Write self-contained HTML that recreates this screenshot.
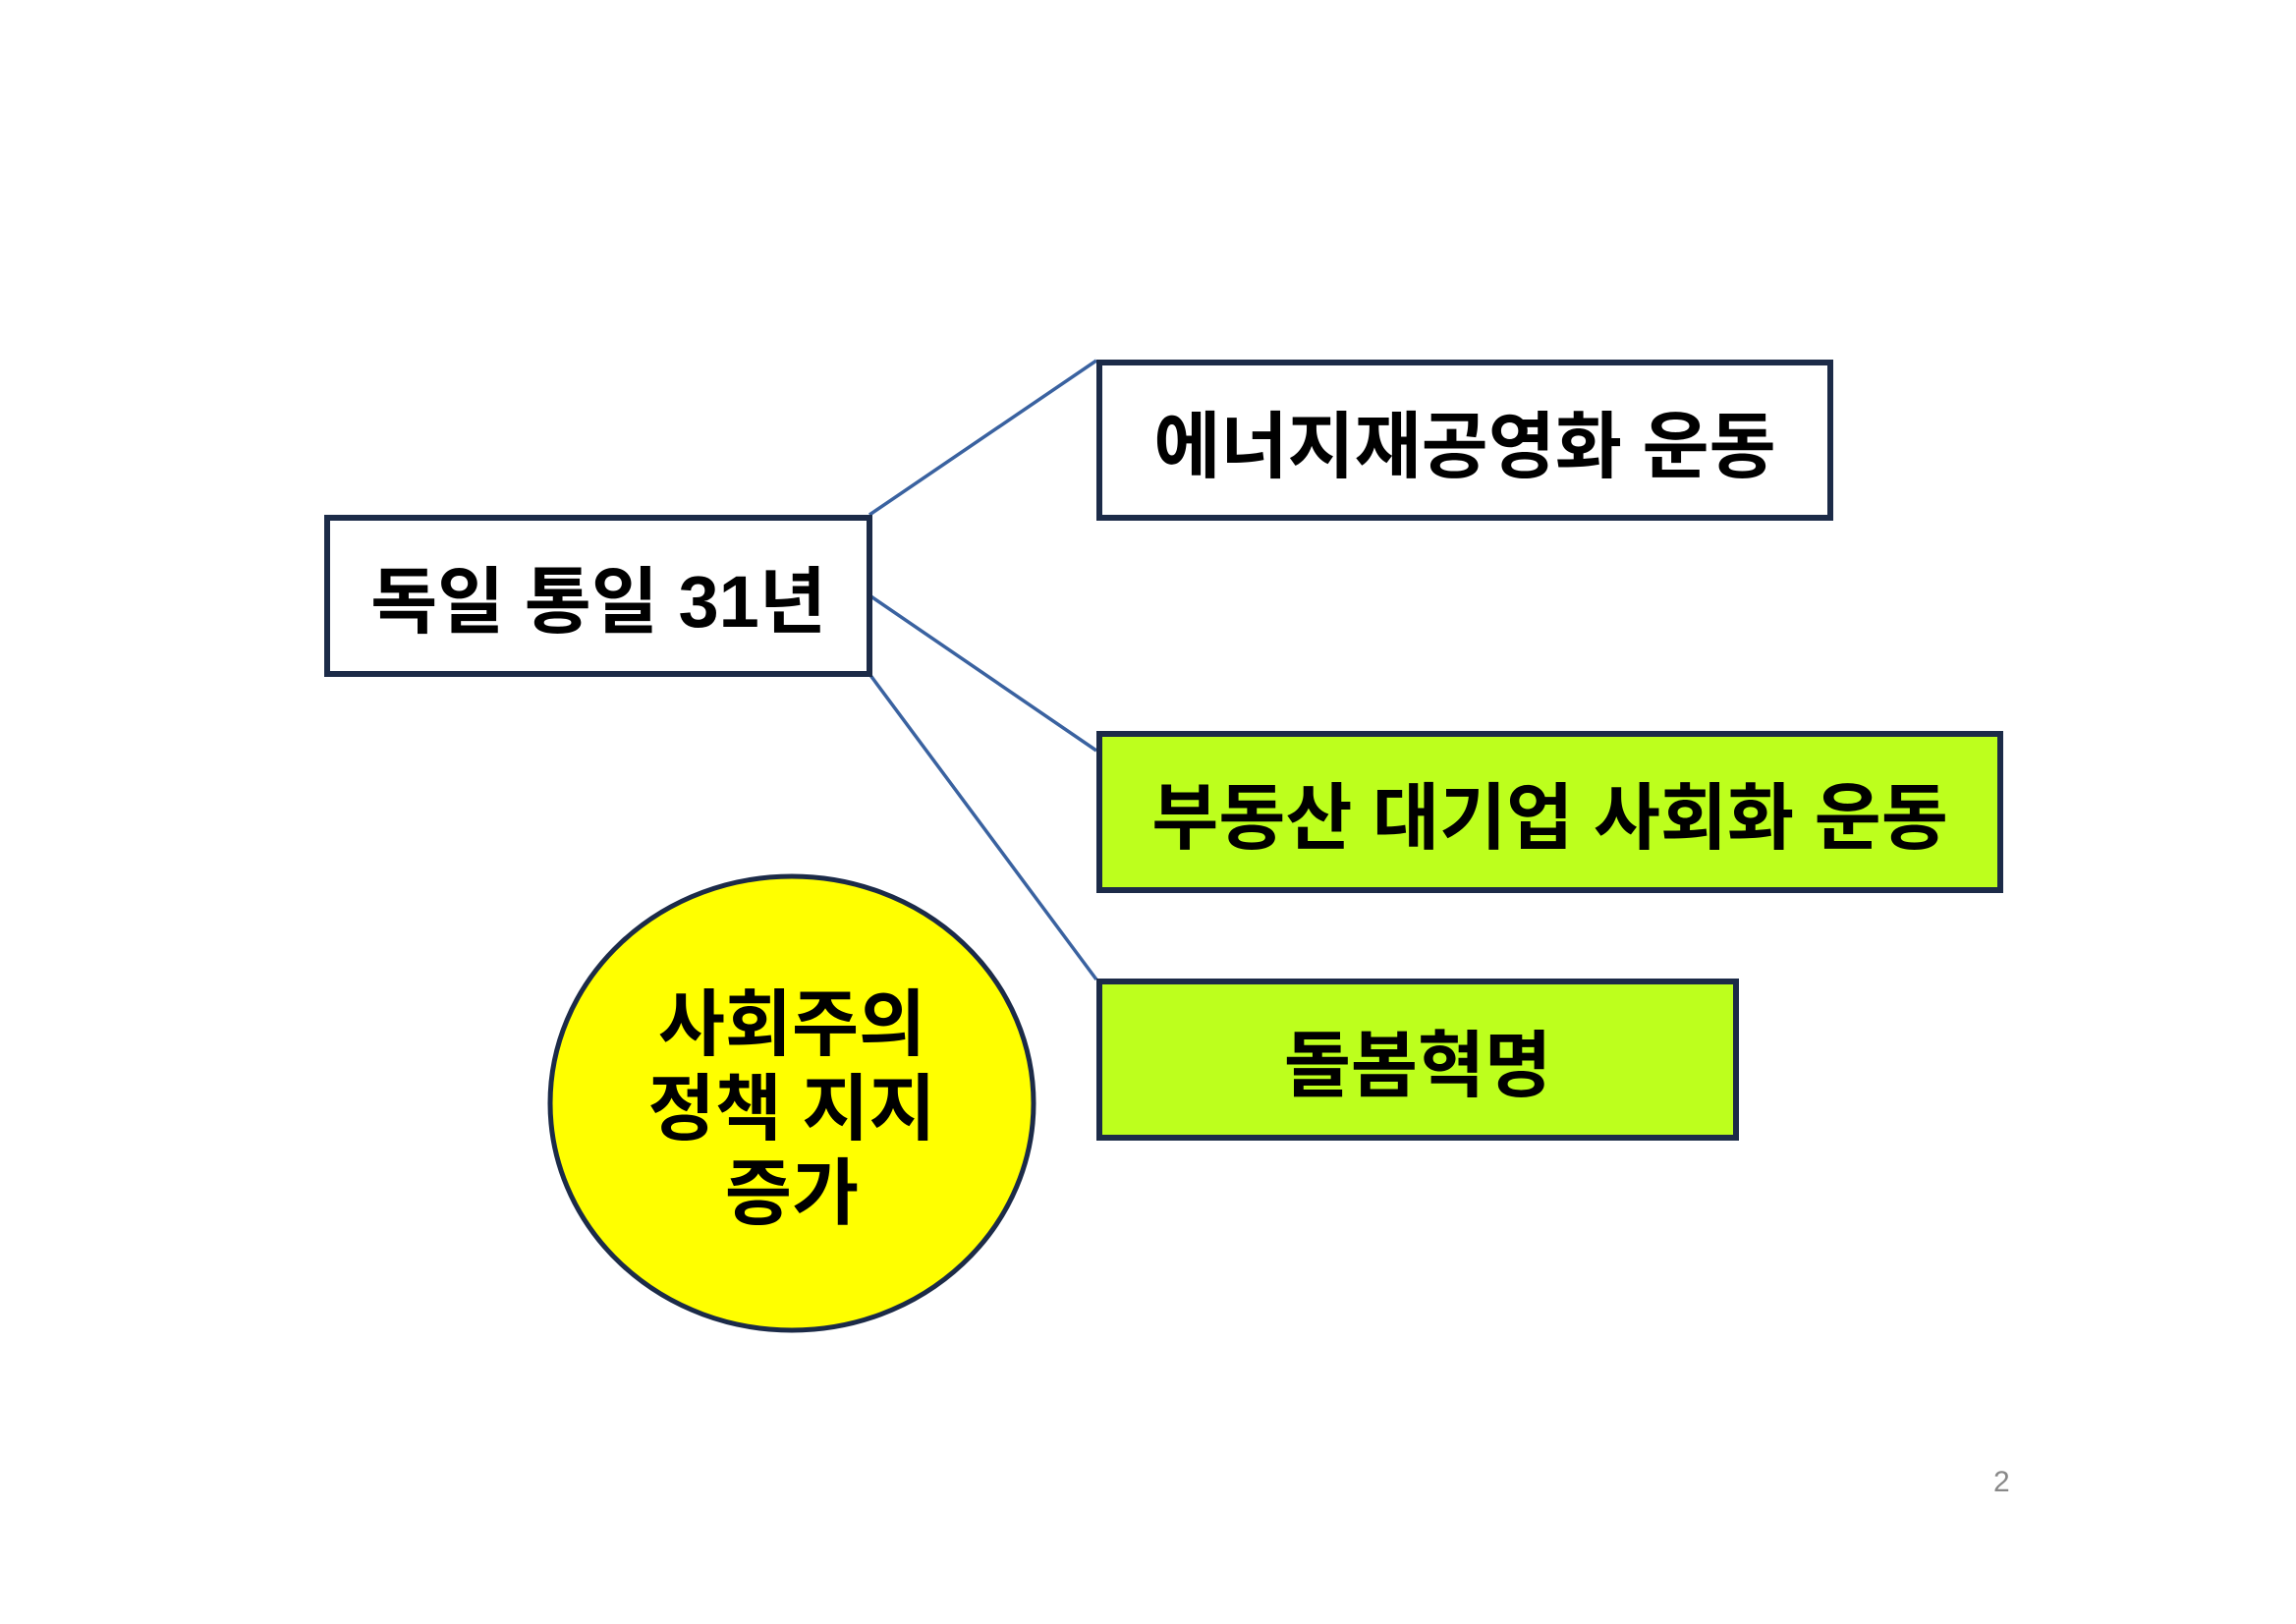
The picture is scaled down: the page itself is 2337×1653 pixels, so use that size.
<!DOCTYPE html>
<html><head><meta charset="utf-8"><style>
html,body{margin:0;padding:0;background:#fff;}
body{width:2337px;height:1653px;position:relative;overflow:hidden;font-family:"Liberation Sans","Noto Sans CJK KR","NanumGothic",sans-serif;}
.box{position:absolute;box-sizing:border-box;border:6px solid #1c2b48;display:flex;align-items:center;justify-content:center;font-size:74px;font-weight:bold;color:#000;white-space:nowrap;}
.g{background:#bdff1d;}
</style></head><body>
<svg width="2337" height="1653" style="position:absolute;left:0;top:0">
<line x1="885" y1="524" x2="1116" y2="367" stroke="#3a62a0" stroke-width="3.5"/>
<line x1="885" y1="606" x2="1116" y2="764" stroke="#3a62a0" stroke-width="3.5"/>
<line x1="885" y1="686" x2="1116" y2="997" stroke="#3a62a0" stroke-width="3.5"/>
<ellipse cx="806" cy="1123" rx="246" ry="231" fill="#ffff00" stroke="#1c2b48" stroke-width="5"/>
</svg>
<div class="box" style="left:330px;top:524px;width:558px;height:165px;background:#fff">독일 통일 31년</div>
<div class="box" style="left:1116px;top:366px;width:750px;height:164px;background:#fff">에너지재공영화 운동</div>
<div class="box g" style="left:1116px;top:744px;width:923px;height:165px">부동산 대기업 사회화 운동</div>
<div class="box g" style="left:1116px;top:996px;width:654px;height:165px">돌봄혁명</div>
<div style="position:absolute;left:561px;top:1000px;width:490px;text-align:center;font-size:74px;font-weight:bold;line-height:86px;">사회주의<br>정책 지지<br>증가</div>
<div style="position:absolute;left:2029px;top:1492px;font-size:30px;color:#888;">2</div>
</body></html>
